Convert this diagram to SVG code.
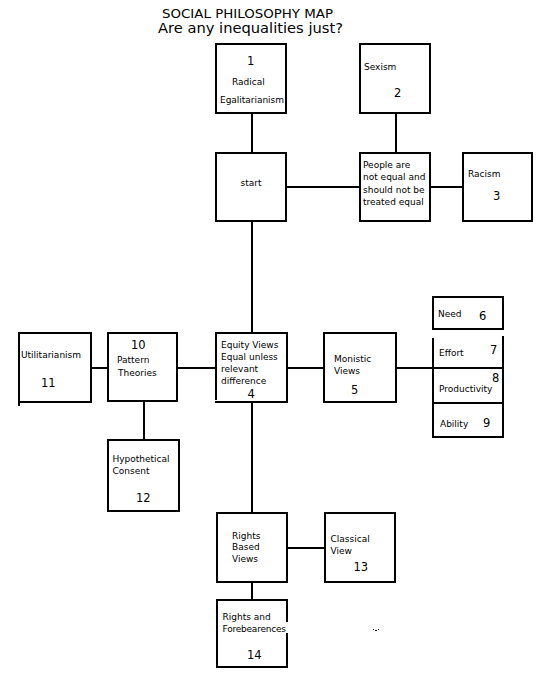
<svg xmlns="http://www.w3.org/2000/svg" width="539" height="684" viewBox="0 0 539 684">
<style>
.box{fill:#fff;stroke:#000;stroke-width:2}
.edge{fill:none;stroke:#000;stroke-width:2}
.conn{fill:none;stroke:#000;stroke-width:2}
text{font-family:"DejaVu Sans","Liberation Sans",sans-serif;fill:#000}
.lbl{font-size:9px}
.num{font-size:11.5px}
.title{font-size:13px}
</style>
<rect width="539" height="684" fill="#fff"/>
<g id="title">
<text class="title" x="162" y="18" textLength="171" lengthAdjust="spacingAndGlyphs">SOCIAL PHILOSOPHY MAP</text>
<text x="158" y="33" style="font-size:14.5px" textLength="185" lengthAdjust="spacingAndGlyphs">Are any inequalities just?</text>
</g>
<g id="connectors">
<path class="conn" d="M252,113V153"/>
<path class="conn" d="M396,113V153"/>
<path class="conn" d="M286,187H360"/>
<path class="conn" d="M430,187H463"/>
<path class="conn" d="M252,221V333"/>
<path class="conn" d="M91,368H108"/>
<path class="conn" d="M177,368H216"/>
<path class="conn" d="M287,368H324"/>
<path class="conn" d="M396,368H433"/>
<path class="conn" d="M144,401V440"/>
<path class="conn" d="M252,402V513"/>
<path class="conn" d="M287,548H325"/>
<path class="conn" d="M252,582V600"/>
</g>
<g id="n1">
<rect class="box" x="216" y="44" width="70" height="69"/>
<text class="num" x="247" y="65">1</text>
<text class="lbl" x="232" y="85">Radical</text>
<text class="lbl" x="220" y="103" textLength="64">Egalitarianism</text>
</g>
<g id="n2">
<rect class="box" x="360" y="44" width="70" height="69"/>
<text class="lbl" x="364" y="70">Sexism</text>
<text class="num" x="394" y="97">2</text>
</g>
<g id="start">
<rect class="box" x="216" y="153" width="70" height="68"/>
<text class="lbl" x="251" y="186" text-anchor="middle">start</text>
</g>
<g id="people">
<rect class="box" x="360" y="153" width="70" height="68"/>
<text class="lbl" x="363" y="168">People are</text>
<text class="lbl" x="363" y="180">not equal and</text>
<text class="lbl" x="363" y="193">should not be</text>
<text class="lbl" x="363" y="205">treated equal</text>
</g>
<g id="n3">
<rect class="box" x="463" y="153" width="69" height="68"/>
<text class="lbl" x="468" y="177">Racism</text>
<text class="num" x="493" y="199.5">3</text>
</g>
<g id="n11">
<rect x="19" y="333" width="72" height="69" fill="#fff"/>
<path class="edge" d="M19,406V333H91V402H19"/>
<text class="lbl" x="21" y="358">Utilitarianism</text>
<text class="num" x="41" y="387">11</text>
</g>
<g id="n10">
<rect class="box" x="108" y="333" width="69" height="68"/>
<text class="num" x="131" y="349">10</text>
<text class="lbl" x="117" y="363">Pattern</text>
<text class="lbl" x="118" y="375.5">Theories</text>
</g>
<g id="n4">
<rect x="216" y="333" width="71" height="69" fill="#fff"/>
<path class="edge" d="M216,400V333H287V402H215"/>
<text class="lbl" x="221" y="347.5">Equity Views</text>
<text class="lbl" x="221" y="359.5">Equal unless</text>
<text class="lbl" x="221" y="371.5">relevant</text>
<text class="lbl" x="221" y="383.5">difference</text>
<text class="num" x="247.5" y="397.5">4</text>
</g>
<g id="n5">
<rect class="box" x="324" y="333" width="72" height="69"/>
<text class="lbl" x="334" y="362">Monistic</text>
<text class="lbl" x="334" y="373.5">Views</text>
<text class="num" x="351" y="393.5">5</text>
</g>
<g id="n6">
<rect class="box" x="433" y="297" width="70" height="32"/>
<text class="lbl" x="438" y="317">Need</text>
<text class="num" x="479" y="319.5">6</text>
</g>
<g id="n7">
<rect x="433" y="337" width="70" height="31" fill="#fff"/>
<path class="edge" d="M433,338V368M503,336V368"/>
<text class="lbl" x="439" y="356">Effort</text>
<text class="num" x="490" y="353.5">7</text>
</g>
<g id="n8">
<path class="edge" d="M433,368H503V403H433Z"/>
<text class="num" x="492" y="382">8</text>
<text class="lbl" x="439" y="392">Productivity</text>
</g>
<g id="n9">
<path class="edge" d="M433,403V437H503V403"/>
<text class="lbl" x="440" y="427">Ability</text>
<text class="num" x="483" y="427">9</text>
</g>
<g id="n12">
<rect class="box" x="108" y="440" width="71" height="71"/>
<text class="lbl" x="112.5" y="462">Hypothetical</text>
<text class="lbl" x="112.5" y="474">Consent</text>
<text class="num" x="136" y="502">12</text>
</g>
<g id="rights">
<rect class="box" x="217" y="513" width="70" height="69"/>
<text class="lbl" x="232" y="538.5">Rights</text>
<text class="lbl" x="232" y="550">Based</text>
<text class="lbl" x="232" y="562">Views</text>
</g>
<g id="n13">
<rect class="box" x="325" y="513" width="70" height="69"/>
<text class="lbl" x="330.5" y="542">Classical</text>
<text class="lbl" x="330.5" y="554">View</text>
<text class="num" x="353.5" y="571">13</text>
</g>
<g id="n14">
<rect x="217" y="600" width="70" height="67" fill="#fff"/>
<path class="edge" d="M287,622V600H217V667H287V633"/>
<text class="lbl" x="222.5" y="619.5">Rights and</text>
<text class="lbl" x="222.5" y="632" textLength="63.5">Forebearences</text>
<text class="num" x="247" y="658.5">14</text>
</g>
<g id="speck" fill="#000">
<rect x="373" y="629" width="1" height="1"/>
<rect x="375" y="630" width="1" height="1"/>
<rect x="376" y="630" width="1" height="1"/>
<rect x="378" y="629" width="1" height="1"/>
</g>
</svg>
